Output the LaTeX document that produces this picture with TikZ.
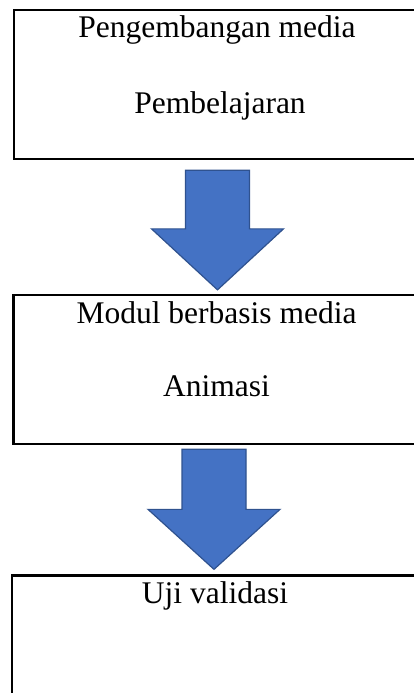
\documentclass[tikz,border=0pt]{standalone}
\usepackage{fontspec}
\setmainfont{Liberation Serif}
\usetikzlibrary{positioning, calc}
\definecolor{panahisi}{HTML}{4472C4}
\definecolor{panahtepi}{HTML}{2F528F}

\begin{document}
\begin{tikzpicture}[
    x=1pt, y=1pt,
    kotak/.style={draw, line width=2.3pt, minimum width=406pt,
                  minimum height=149pt, inner sep=0pt},
    teks/.style={anchor=base, inner sep=0pt,
                 font=\fontsize{31.5}{38}\selectfont},
    blokpanah/.style={fill=panahisi, draw=panahtepi, line width=1.2pt,
                      line join=miter}
  ]
  \useasboundingbox (0,0) rectangle (413,-693);

  \node[kotak] (peng) at (217,-84.5) {};
  \node[kotak] (modul) at (216.5,-369.5) {};
  \node[kotak] (uji) at (215,-650) {};

  \node[teks] (peng1) at ([yshift=-29pt]peng.north) {Pengembangan media};
  \node[teks] (peng2) at ([yshift=-105pt,xshift=3pt]peng.north) {Pembelajaran};
  \node[teks] (modul1) at ([yshift=-30pt]modul.north) {Modul berbasis media};
  \node[teks] (modul2) at ([yshift=-103pt]modul.north) {Animasi};
  \node[teks] (uji1) at ([yshift=-29pt]uji.north) {Uji validasi};

  \coordinate (p1tip) at ([yshift=4pt,xshift=1pt]modul.north);
  \coordinate (p1top) at ($(p1tip |- peng.south)+(0,-10)$);
  \coordinate (p2tip) at ([yshift=5pt,xshift=-1pt]uji.north);
  \coordinate (p2top) at ($(p2tip |- modul.south)+(0,-4)$);

  \draw[blokpanah] (p1top) ++(-32,0) -- ++(64,0)
    -- ($(p1tip)+(32,61)$) -- ($(p1tip)+(66,61)$) -- (p1tip)
    -- ($(p1tip)+(-66,61)$) -- ($(p1tip)+(-32,61)$) -- cycle;
  \draw[blokpanah] (p2top) ++(-32,0) -- ++(64,0)
    -- ($(p2tip)+(32,60)$) -- ($(p2tip)+(66,60)$) -- (p2tip)
    -- ($(p2tip)+(-66,60)$) -- ($(p2tip)+(-32,60)$) -- cycle;
\end{tikzpicture}
\end{document}
